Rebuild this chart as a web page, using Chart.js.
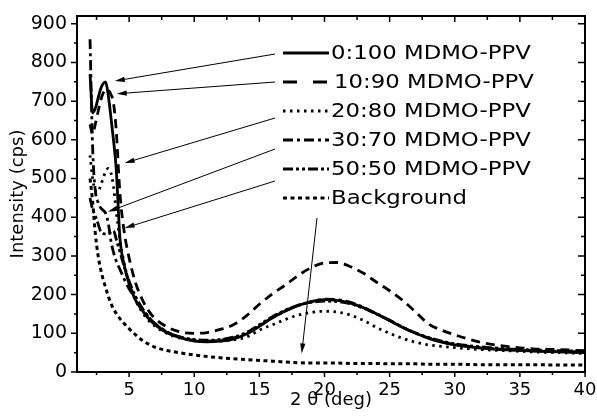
<!DOCTYPE html>
<html>
<head>
<meta charset="utf-8">
<script src="https://cdn.jsdelivr.net/npm/chart.js@4.4.1/dist/chart.umd.min.js"></script>
<style>
  html, body { margin: 0; padding: 0; background: #fff; }
  canvas { display: block; }
</style>
</head>
<body>
<canvas id="xrd" width="597" height="416"></canvas>
<script>
"use strict"

// 2 theta positions (deg), shared by all scans
const two_theta = [2.0, 2.2, 2.4, 2.6, 2.8, 3.0, 3.2, 3.4, 3.6, 3.8, 4.0, 4.3, 4.6, 5.0, 5.5, 6, 6.5, 7, 8, 9,
                   10, 11, 12, 13, 14, 15, 16, 17, 18, 19, 20, 21, 22, 23, 24, 25, 26, 27, 28, 29,
                   30, 32, 34, 36, 38, 40]

// intensities (cps)
const i_0_100  = [770, 670, 680, 705, 730, 745, 750, 715, 660, 600, 530, 345, 280, 228, 185, 160, 138, 122, 100, 88,
                  80, 78, 80, 85, 98, 118, 140, 158, 172, 182, 187, 185, 178, 166, 150, 133, 115, 100, 87, 77,
                  70, 62, 57, 54, 52, 50]
const i_10_90  = [640, 615, 640, 670, 700, 720, 730, 728, 718, 695, 630, 460, 368, 295, 230, 188, 158, 138, 115, 103,
                  100, 102, 110, 122, 145, 175, 202, 225, 250, 270, 282, 283, 272, 255, 232, 210, 185, 155, 124, 108,
                  96, 77, 66, 60, 58, 55]
const i_20_80  = [560, 500, 470, 465, 480, 500, 518, 526, 515, 480, 420, 340, 285, 230, 185, 155, 133, 118, 98, 87,
                  82, 80, 80, 83, 90, 108, 122, 136, 147, 154, 157, 155, 147, 133, 115, 100, 87, 77, 70, 66,
                  63, 58, 55, 52, 50, 48]
const i_30_70  = [860, 580, 470, 440, 425, 418, 410, 385, 340, 310, 288, 265, 242, 215, 190, 165, 142, 125, 102, 89,
                  82, 80, 82, 88, 100, 120, 140, 158, 172, 182, 188, 187, 180, 167, 151, 134, 116, 100, 88, 78,
                  71, 63, 58, 55, 53, 52]
const i_50_50  = [450, 420, 405, 385, 365, 358, 357, 358, 362, 365, 345, 310, 275, 235, 195, 165, 142, 124, 102, 90,
                  84, 82, 84, 90, 102, 122, 143, 160, 173, 180, 183, 182, 176, 165, 150, 133, 116, 101, 89, 80,
                  73, 65, 60, 57, 55, 54]
const i_backgr = [500, 440, 360, 305, 268, 240, 218, 196, 178, 163, 152, 138, 126, 112, 96, 82, 72, 64, 55, 49,
                  44, 40, 37, 34, 32, 30, 28, 26, 24, 23, 23, 23, 22, 22, 22, 21, 21, 21, 20, 20,
                  20, 19, 19, 19, 18, 18]

const series_labels = ['0:100 MDMO-PPV', '10:90 MDMO-PPV', '20:80 MDMO-PPV', '30:70 MDMO-PPV', '50:50 MDMO-PPV', 'Background']
const series_values = [i_0_100, i_10_90, i_20_80, i_30_70, i_50_50, i_backgr]
const series_dash   = [[], [9, 6], [2.5, 4.5], [10, 4, 3, 4], [10, 3, 3, 3, 3, 3], [4, 3.5]]

// arrow tips in data units (2 theta, cps), one per legend row
const arrow_tips = [[3.9, 752], [4.05, 719], [4.66, 540], [3.38, 414], [4.66, 372], [18.25, 48]]

const FONT = "'DejaVu Sans', sans-serif"

function xy(vals){
    return two_theta.map((t, i) => ({x: t, y: vals[i]}))
}

let datasets = []
for (const [k, vals] of series_values.entries()) {
    datasets.push({
        label: series_labels[k],
        data: xy(vals),
        borderColor: '#000',
        borderWidth: k == 5 ? 3 : 2.8,
        borderDash: series_dash[k],
        pointRadius: 0,
        fill: false,
        cubicInterpolationMode: 'monotone',
    })
}

// white page + frame with minor/major ticks on all four sides
const frame_plugin = {
    id: 'frame_plugin',
    beforeDraw(chart){
        const ctx = chart.ctx
        ctx.save()
        ctx.fillStyle = '#fff'
        ctx.fillRect(0, 0, chart.width, chart.height)
        ctx.restore()
    },
    afterDraw(chart){
        const ctx = chart.ctx
        const a = chart.chartArea
        const sx = chart.scales.x, sy = chart.scales.y
        ctx.save()
        ctx.strokeStyle = '#000'
        ctx.lineWidth = 1.5
        ctx.beginPath()
        for (let v = 2.5; v <= 40; v += 2.5) {
            const px = sx.getPixelForValue(v)
            const big = v % 5 == 0
            // bottom, outward
            ctx.moveTo(px, a.bottom); ctx.lineTo(px, a.bottom + (big ? 5 : 3))
            // top, inward
            ctx.moveTo(px, a.top); ctx.lineTo(px, a.top + (big ? 6 : 4))
        }
        for (let v = 50; v <= 900; v += 50) {
            const py = sy.getPixelForValue(v)
            const big = v % 100 == 0
            ctx.moveTo(a.left, py); ctx.lineTo(a.left - (big ? 6 : 3), py)
            ctx.moveTo(a.right, py); ctx.lineTo(a.right - (big ? 7 : 4), py)
        }
        ctx.moveTo(a.left, sy.getPixelForValue(0)); ctx.lineTo(a.left - 6, sy.getPixelForValue(0))
        ctx.stroke()
        ctx.lineWidth = 2
        ctx.strokeRect(a.left, a.top, a.right - a.left, a.bottom - a.top)
        ctx.restore()
    }
}

// legend in the upper right plus the arrows pointing to the curves
const LEG_X = 283, LEG_Y = 53, LEG_ROW = 29, LEG_LINE = 46
const arrow_tail_dy = [1, 0, 7, 9, 12]

function draw_arrow(ctx, x0, y0, x1, y1){
    const ang = Math.atan2(y1 - y0, x1 - x0)
    const len = 10, half = 2.6
    ctx.beginPath()
    ctx.moveTo(x0, y0)
    ctx.lineTo(x1 - Math.cos(ang) * len * 0.8, y1 - Math.sin(ang) * len * 0.8)
    ctx.stroke()
    ctx.beginPath()
    ctx.moveTo(x1, y1)
    ctx.lineTo(x1 - Math.cos(ang) * len - Math.sin(ang) * half, y1 - Math.sin(ang) * len + Math.cos(ang) * half)
    ctx.lineTo(x1 - Math.cos(ang) * len + Math.sin(ang) * half, y1 - Math.sin(ang) * len - Math.cos(ang) * half)
    ctx.closePath()
    ctx.fill()
}

const legend_plugin = {
    id: 'legend_plugin',
    afterDatasetsDraw(chart){
        const ctx = chart.ctx
        const sx = chart.scales.x, sy = chart.scales.y
        ctx.save()
        for (const [k, label] of series_labels.entries()) {
            const ry = LEG_Y + k * LEG_ROW
            ctx.strokeStyle = '#000'
            ctx.lineWidth = 2.8
            ctx.setLineDash(k == 1 ? [14, 16] : series_dash[k])
            ctx.beginPath()
            ctx.moveTo(LEG_X, ry)
            ctx.lineTo(LEG_X + LEG_LINE, ry)
            ctx.stroke()
            ctx.setLineDash([])
            ctx.fillStyle = '#000'
            ctx.font = '19px ' + FONT
            ctx.textBaseline = 'middle'
            ctx.save()
            ctx.translate(LEG_X + LEG_LINE + (k == 1 ? 5 : 2), ry + 1)
            ctx.scale(1.2, 1)
            ctx.fillText(label, 0, 0)
            ctx.restore()
        }
        // arrows
        ctx.strokeStyle = '#000'
        ctx.fillStyle = '#000'
        ctx.lineWidth = 1
        for (const [k, tip] of arrow_tips.entries()) {
            const tx = sx.getPixelForValue(tip[0]), ty = sy.getPixelForValue(tip[1])
            let fx, fy
            if (k < 5) {
                fx = LEG_X - 8
                fy = LEG_Y + k * LEG_ROW + arrow_tail_dy[k]
            } else {
                fx = LEG_X + 34
                fy = LEG_Y + k * LEG_ROW + 20
            }
            draw_arrow(ctx, fx, fy, tx, ty)
        }
        ctx.restore()
    }
}

const xrd_chart = new Chart(document.getElementById('xrd'), {
    type: 'line',
    data: { datasets: datasets },
    options: {
        responsive: false,
        animation: false,
        events: [],
        layout: { padding: { top: 16, right: 12, left: 0, bottom: 0 } },
        plugins: {
            legend: { display: false },
            tooltip: { enabled: false },
        },
        scales: {
            x: {
                type: 'linear',
                min: 1,
                max: 40,
                grid: { display: false, drawTicks: false },
                border: { display: false },
                ticks: {
                    stepSize: 5,
                    includeBounds: false,
                    padding: 8,
                    color: '#000',
                    maxRotation: 0,
                    font: { family: FONT, size: 18 },
                },
                title: {
                    display: true,
                    text: '2 θ (deg)',
                    color: '#000',
                    font: { family: FONT, size: 18 },
                    padding: { top: 0, bottom: 5 },
                },
                afterFit(scale){
                    scale.height = 44
                    scale.paddingLeft = 0
                    scale.paddingRight = 0
                },
            },
            y: {
                min: 0,
                max: 920,
                grid: { display: false, drawTicks: false },
                border: { display: false },
                ticks: {
                    stepSize: 100,
                    includeBounds: false,
                    padding: 10,
                    color: '#000',
                    font: { family: FONT, size: 19 },
                },
                title: {
                    display: true,
                    text: 'Intensity (cps)',
                    color: '#000',
                    font: { family: FONT, size: 18 },
                    padding: { top: 8, bottom: 0 },
                },
                afterFit(scale){
                    scale.width = 77
                    scale.paddingTop = 0
                    scale.paddingBottom = 0
                },
            },
        },
    },
    plugins: [frame_plugin, legend_plugin],
})
</script>
</body>
</html>
